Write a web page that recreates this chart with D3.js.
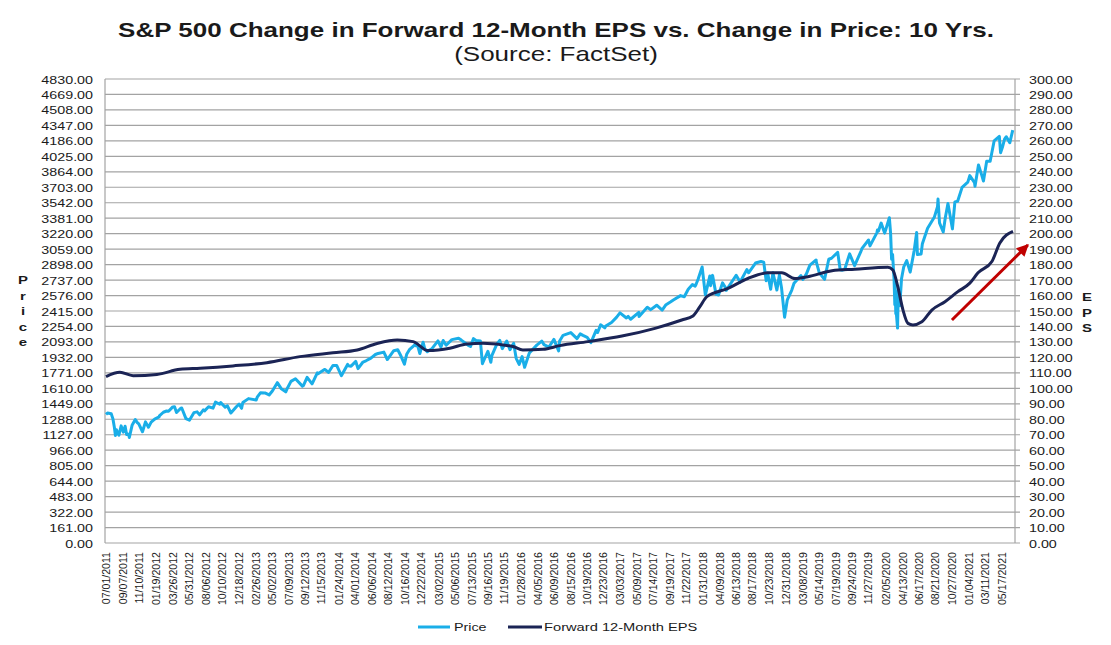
<!DOCTYPE html>
<html><head><meta charset="utf-8">
<script src="https://cdnjs.cloudflare.com/ajax/libs/d3/7.8.5/d3.min.js"></script>
<style>
html,body{margin:0;padding:0;background:#fff;}
svg{display:block;font-family:"Liberation Sans",Arial,sans-serif;}
</style></head>
<body>
<svg id="chart" width="1111" height="645"></svg>
<script>
const titleText = "S&P 500 Change in Forward 12-Month EPS vs. Change in Price: 10 Yrs.";
const subtitleText = "(Source: FactSet)";
const seriesNames = ["Price", "Forward 12-Month EPS"];
const priceTicks = [0,161,322,483,644,805,966,1127,1288,1449,1610,1771,1932,2093,2254,2415,2576,2737,2898,3059,3220,3381,3542,3703,3864,4025,4186,4347,4508,4669,4830];
const epsTicks = [0,10,20,30,40,50,60,70,80,90,100,110,120,130,140,150,160,170,180,190,200,210,220,230,240,250,260,270,280,290,300];
const xLabels = ["07/01/2011","09/07/2011","11/10/2011","01/19/2012","03/26/2012","05/31/2012","08/06/2012","10/10/2012","12/18/2012","02/26/2013","05/02/2013","07/09/2013","09/12/2013","11/15/2013","01/24/2014","04/01/2014","06/06/2014","08/12/2014","10/16/2014","12/22/2014","03/02/2015","05/06/2015","07/13/2015","09/16/2015","11/19/2015","01/28/2016","04/05/2016","06/09/2016","08/15/2016","10/19/2016","12/23/2016","03/03/2017","05/09/2017","07/14/2017","09/19/2017","11/22/2017","01/31/2018","04/09/2018","06/13/2018","08/17/2018","10/23/2018","12/31/2018","03/08/2019","05/14/2019","07/19/2019","09/24/2019","11/27/2019","02/05/2020","04/13/2020","06/17/2020","08/21/2020","10/27/2020","01/04/2021","03/11/2021","05/17/2021"];
const dateDomain = ["2011-07-01","2021-07-01"];

const priceSeries = [
["2011-07-01",1339],["2011-07-07",1353],["2011-07-22",1345],["2011-07-29",1292],["2011-08-04",1200],["2011-08-08",1119],["2011-08-12",1179],["2011-08-18",1140],["2011-08-22",1123],["2011-08-31",1219],["2011-09-09",1154],["2011-09-16",1216],["2011-09-22",1129],["2011-09-30",1131],["2011-10-03",1099],["2011-10-14",1225],["2011-10-27",1285],["2011-11-04",1253],["2011-11-10",1239],["2011-11-25",1158],["2011-12-07",1261],["2011-12-19",1205],["2011-12-30",1258],
["2012-01-13",1289],["2012-01-31",1312],["2012-02-01",1324],["2012-02-17",1361],["2012-03-01",1374],["2012-03-09",1371],["2012-03-26",1417],["2012-04-02",1419],["2012-04-10",1358],["2012-04-27",1403],["2012-05-01",1405],["2012-05-18",1295],["2012-06-01",1278],["2012-06-19",1357],["2012-07-02",1365],["2012-07-12",1334],["2012-07-27",1385],["2012-08-01",1375],["2012-08-17",1418],["2012-09-04",1404],["2012-09-14",1466],["2012-10-01",1444],["2012-10-05",1461],["2012-10-23",1413],["2012-11-01",1428],["2012-11-15",1353],["2012-12-07",1418],["2012-12-18",1446],["2012-12-28",1402],
["2013-01-02",1462],["2013-01-25",1503],["2013-02-25",1488],["2013-03-01",1518],["2013-03-14",1563],["2013-04-01",1562],["2013-04-18",1541],["2013-05-01",1582],["2013-05-21",1669],["2013-06-05",1609],["2013-06-24",1573],["2013-07-01",1614],["2013-07-15",1682],["2013-08-02",1709],["2013-08-30",1633],["2013-09-03",1639],["2013-09-18",1725],["2013-10-08",1656],["2013-10-29",1771],["2013-11-01",1762],["2013-11-27",1807],["2013-12-02",1800],["2013-12-13",1775],["2013-12-31",1848],
["2014-01-15",1848],["2014-02-03",1742],["2014-02-28",1859],["2014-03-03",1845],["2014-03-14",1841],["2014-04-02",1890],["2014-04-11",1815],["2014-05-01",1884],["2014-05-13",1897],["2014-06-02",1925],["2014-06-20",1962],["2014-07-01",1973],["2014-07-24",1987],["2014-08-07",1910],["2014-09-02",2002],["2014-09-18",2011],["2014-10-01",1946],["2014-10-15",1862],["2014-10-24",1965],["2014-11-04",2012],["2014-11-28",2067],["2014-12-01",2053],["2014-12-05",2075],["2014-12-16",1972],["2014-12-29",2090],
["2015-01-05",2021],["2015-01-15",1992],["2015-02-02",2021],["2015-02-27",2104],["2015-03-11",2040],["2015-03-20",2108],["2015-04-01",2059],["2015-04-24",2117],["2015-05-21",2131],["2015-06-01",2112],["2015-06-29",2058],["2015-07-08",2046],["2015-07-20",2128],["2015-07-30",2108],["2015-08-17",2102],["2015-08-25",1867],["2015-09-16",1996],["2015-09-28",1881],["2015-10-02",1951],["2015-10-23",2075],["2015-11-03",2109],["2015-11-13",2023],["2015-12-01",2103],["2015-12-14",2012],["2015-12-29",2078],["2015-12-31",2044],
["2016-01-08",1922],["2016-01-20",1859],["2016-02-01",1940],["2016-02-11",1829],["2016-03-01",1978],["2016-03-31",2060],["2016-04-20",2102],["2016-04-29",2065],["2016-05-19",2040],["2016-06-08",2119],["2016-06-27",2000],["2016-07-01",2103],["2016-07-15",2162],["2016-08-15",2190],["2016-09-09",2128],["2016-09-22",2177],["2016-10-03",2161],["2016-10-20",2141],["2016-11-04",2085],["2016-11-25",2213],["2016-12-01",2191],["2016-12-13",2271],["2016-12-30",2239],
["2017-01-03",2258],["2017-01-26",2296],["2017-02-15",2349],["2017-03-01",2396],["2017-03-27",2342],["2017-04-03",2359],["2017-04-13",2329],["2017-05-16",2400],["2017-05-17",2357],["2017-06-19",2453],["2017-07-03",2429],["2017-07-27",2475],["2017-08-18",2425],["2017-09-01",2477],["2017-09-20",2508],["2017-10-02",2529],["2017-10-31",2575],["2017-11-15",2564],["2017-12-01",2642],["2017-12-18",2690],["2017-12-29",2674],
["2018-01-02",2696],["2018-01-10",2748],["2018-01-26",2873],["2018-02-08",2581],["2018-02-26",2780],["2018-03-01",2678],["2018-03-09",2786],["2018-03-23",2588],["2018-04-02",2582],["2018-04-18",2708],["2018-05-01",2655],["2018-05-03",2630],["2018-06-12",2787],["2018-06-28",2716],["2018-07-25",2846],["2018-08-01",2813],["2018-08-29",2914],["2018-09-20",2930],["2018-10-01",2924],["2018-10-11",2729],["2018-10-17",2810],["2018-10-29",2641],["2018-11-07",2814],["2018-11-23",2633],["2018-12-03",2790],["2018-12-12",2651],["2018-12-24",2351],
["2019-01-04",2532],["2019-01-22",2633],["2019-01-31",2704],["2019-02-28",2784],["2019-03-08",2743],["2019-03-22",2801],["2019-04-05",2893],["2019-04-30",2946],["2019-05-01",2924],["2019-05-13",2812],["2019-06-03",2744],["2019-06-20",2954],["2019-07-01",2964],["2019-07-26",3025],["2019-08-05",2844],["2019-08-14",2840],["2019-08-23",2847],["2019-09-12",3010],["2019-10-02",2887],["2019-10-28",3039],["2019-11-01",3067],["2019-11-27",3154],["2019-12-03",3093],["2019-12-31",3231],
["2020-01-02",3258],["2020-01-06",3246],["2020-01-17",3330],["2020-01-31",3226],["2020-02-03",3249],["2020-02-19",3386],["2020-02-24",3226],["2020-02-28",2954],["2020-03-03",3003],["2020-03-09",2747],["2020-03-12",2481],["2020-03-13",2711],["2020-03-16",2386],["2020-03-18",2398],["2020-03-23",2237],["2020-03-26",2630],["2020-04-01",2471],["2020-04-08",2750],["2020-04-17",2875],["2020-04-29",2940],["2020-05-13",2820],["2020-05-29",3044],["2020-06-08",3232],["2020-06-11",3002],["2020-06-26",3009],["2020-07-01",3116],["2020-07-22",3276],["2020-08-18",3390],["2020-08-31",3500],["2020-09-02",3580],["2020-09-08",3332],["2020-09-23",3237],["2020-10-01",3380],["2020-10-12",3534],["2020-10-30",3270],["2020-11-09",3551],["2020-11-20",3557],["2020-12-08",3702],["2020-12-31",3756],
["2021-01-08",3824],["2021-01-27",3751],["2021-01-29",3714],["2021-02-12",3934],["2021-02-25",3829],["2021-03-04",3768],["2021-03-17",3974],["2021-03-31",3973],["2021-04-16",4185],["2021-05-07",4232],["2021-05-12",4063],["2021-05-19",4116],["2021-05-28",4204],["2021-06-04",4229],["2021-06-18",4166],["2021-06-30",4298]
];

const epsSeries = [
["2011-07-01",107.6],["2011-08-26",110.4],["2011-10-18",108.2],["2012-01-22",109.0],["2012-04-24",112.3],["2012-07-14",113.0],["2012-11-23",114.5],["2013-04-09",116.6],["2013-08-20",120.5],["2013-12-31",123.0],["2014-04-08",124.8],["2014-06-27",129.0],["2014-09-16",131.2],["2014-11-19",130.2],["2015-01-18",124.4],["2015-04-16",125.9],["2015-06-24",128.7],["2015-08-27",129.1],["2015-12-26",127.0],["2016-02-04",124.8],["2016-04-25",125.2],["2016-07-02",127.6],["2016-10-23",130.2],["2017-03-09",133.8],["2017-07-20",138.8],["2017-11-05",144.2],["2017-12-20",146.8],["2018-01-17",152.8],["2018-02-14",159.3],["2018-05-10",164.6],["2018-07-29",171.0],["2018-10-18",174.7],["2018-12-13",174.7],["2019-02-04",171.0],["2019-03-28",172.2],["2019-07-03",176.0],["2019-10-03",177.0],["2020-02-13",178.3],["2020-03-04",176.5],["2020-03-24",165.7],["2020-04-14",150.6],["2020-05-04",142.0],["2020-05-24",141.0],["2020-06-29",143.0],["2020-08-08",150.6],["2020-09-30",156.0],["2020-11-21",162.5],["2021-01-08",168.0],["2021-02-10",174.7],["2021-04-07",182.0],["2021-05-09",194.0],["2021-07-01",201.5]
];

const arrowFrom = ["2020-10-28",144.2];
const arrowTo = ["2021-08-30",192.7];

const colors = {price:"#1aaee8", eps:"#1b2455", grid:"#a3a3a3", arrow:"#c00000", text:"#1a1a1a"};
const SX = 1.3;

const parse = d3.timeParse("%Y-%m-%d");
const parseLbl = d3.timeParse("%m/%d/%Y");
const svg = d3.select("#chart");

const plot = {left:105, right:1015, top:79, bottom:543};
const x = d3.scaleTime().domain(dateDomain.map(parse)).range([106, 1013]);
const yP = d3.scaleLinear().domain([0,4830]).range([plot.bottom, plot.top]);
const yE = d3.scaleLinear().domain([0,300]).range([plot.bottom, plot.top]);

const priceSorted = priceSeries.slice().sort((a,b) => d3.ascending(a[0], b[0]));

// gridlines
svg.append("g").selectAll("line").data(priceTicks).join("line")
  .attr("x1", plot.left).attr("x2", plot.right + 5)
  .attr("y1", d => yP(d)).attr("y2", d => yP(d))
  .attr("stroke", colors.grid).attr("stroke-width", 1.2);

// axis lines
svg.append("line").attr("x1",plot.left).attr("x2",plot.left).attr("y1",plot.top).attr("y2",plot.bottom).attr("stroke",colors.grid).attr("stroke-width",1.2);
svg.append("line").attr("x1",plot.right).attr("x2",plot.right).attr("y1",plot.top).attr("y2",plot.bottom).attr("stroke",colors.grid).attr("stroke-width",1.2);

// left axis labels
const leftAxis = d3.axisLeft(yP).tickValues(priceTicks).tickFormat(d3.format(".2f")).tickSize(0).tickPadding(0);
const gL = svg.append("g").attr("transform",`translate(${plot.left},0)`).call(leftAxis);
gL.select(".domain").remove();
gL.selectAll("text").attr("x",null).attr("dy",null)
  .attr("transform",`translate(-12,4) scale(${SX},1)`)
  .attr("font-size",11).attr("font-family","Liberation Sans, Arial").attr("fill",colors.text);

// right axis labels
const rightAxis = d3.axisRight(yE).tickValues(epsTicks).tickFormat(d3.format(".2f")).tickSize(0).tickPadding(0);
const gR = svg.append("g").attr("transform",`translate(${plot.right},0)`).call(rightAxis);
gR.select(".domain").remove();
gR.selectAll("text").attr("x",null).attr("dy",null)
  .attr("transform",`translate(14,4) scale(${SX},1)`)
  .attr("font-size",11).attr("font-family","Liberation Sans, Arial").attr("fill",colors.text);

// x labels
const gX = svg.append("g");
gX.selectAll("text").data(xLabels).join("text")
  .attr("transform", d => `translate(${x(parseLbl(d))},552) rotate(-90)`)
  .attr("dy","0.36em").attr("text-anchor","end")
  .attr("font-size",10.6).attr("fill",colors.text).text(d => d);

// lines
const lineP = d3.line().x(d => x(parse(d[0]))).y(d => yP(d[1]));
const lineE = d3.line().x(d => x(parse(d[0]))).y(d => yE(d[1])).curve(d3.curveMonotoneX);
svg.append("path").attr("d", lineP(priceSorted)).attr("fill","none").attr("stroke",colors.price).attr("stroke-width",3).attr("stroke-linejoin","round");
svg.append("path").attr("d", lineE(epsSeries)).attr("fill","none").attr("stroke",colors.eps).attr("stroke-width",3).attr("stroke-linejoin","round");

// arrow
const defs = svg.append("defs");
defs.append("marker").attr("id","ah").attr("viewBox","0 0 10 10").attr("refX",9).attr("refY",5)
  .attr("markerWidth",4.5).attr("markerHeight",4).attr("orient","auto").attr("markerUnits","strokeWidth")
  .append("path").attr("d","M0,0 L10,5 L0,10 Z").attr("fill",colors.arrow);
svg.append("line")
  .attr("x1", x(parse(arrowFrom[0]))).attr("y1", yE(arrowFrom[1]))
  .attr("x2", x(parse(arrowTo[0]))).attr("y2", yE(arrowTo[1]))
  .attr("stroke",colors.arrow).attr("stroke-width",3).attr("marker-end","url(#ah)");

// scaled text helper
function stext(px, py, txt, size, weight, anchor){
  return svg.append("text").attr("transform",`translate(${px},${py}) scale(${SX},1)`)
    .attr("text-anchor",anchor||"start").attr("font-size",size).attr("font-weight",weight||"normal")
    .attr("fill",colors.text).text(txt);
}

// titles
stext(556, 37, titleText, 20, "bold", "middle");
stext(556, 61, subtitleText, 20, "normal", "middle");

// axis titles (stacked letters)
"Price".split("").forEach((c,i) => stext(23, 284 + i*15.5, c, 11.5, "bold", "middle"));
"EPS".split("").forEach((c,i) => stext(1087, 301 + i*15.5, c, 11.5, "bold", "middle"));

// legend
const legY = 627;
svg.append("line").attr("x1",418).attr("x2",450).attr("y1",legY).attr("y2",legY).attr("stroke",colors.price).attr("stroke-width",3);
stext(454, legY+4, seriesNames[0], 11, "normal", "start");
svg.append("line").attr("x1",508).attr("x2",542).attr("y1",legY).attr("y2",legY).attr("stroke",colors.eps).attr("stroke-width",3);
stext(544, legY+4, seriesNames[1], 11.3, "normal", "start");
</script>
</body></html>
